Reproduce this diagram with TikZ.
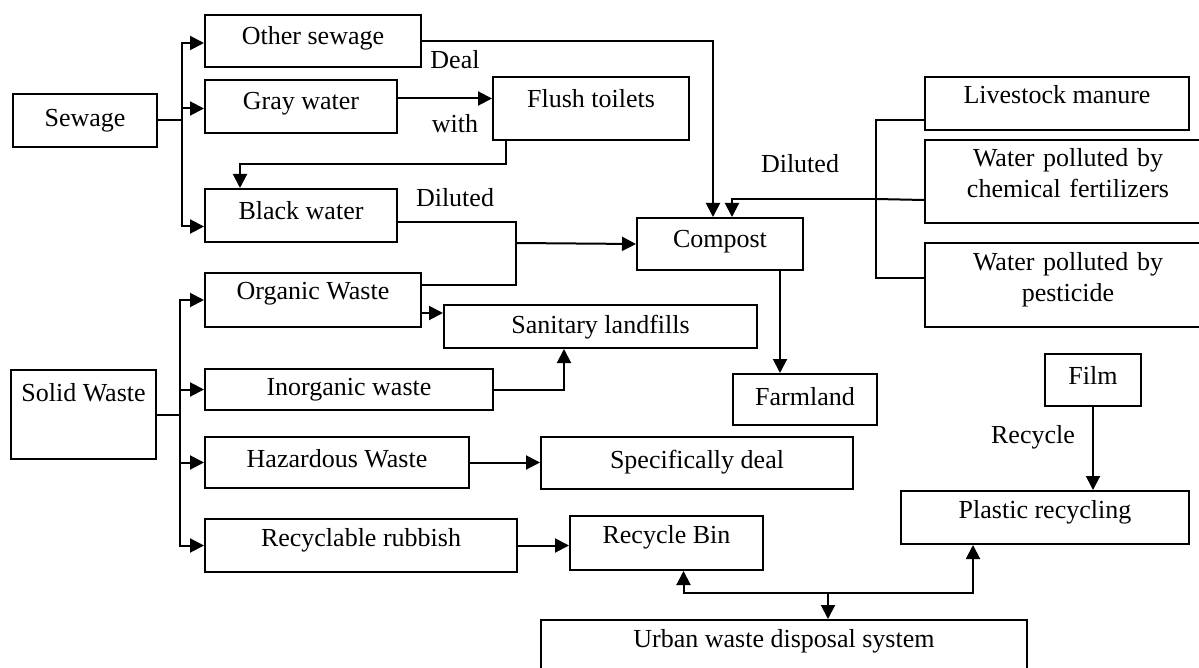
\documentclass[tikz,border=0pt]{standalone}
\usepackage{fontspec}
\setmainfont{Liberation Serif}
\usetikzlibrary{arrows.meta}
\begin{document}
\begin{tikzpicture}[x=1pt, y=-1pt, line width=2pt, font=\fontsize{26}{31}\selectfont]
	\tikzset{
		box/.style={draw, inner sep=0pt, anchor=north west},
		twoline/.style={box, align=center},
		flow/.style={-{Triangle[length=14pt,width=14pt]}}
	}
	\clip (0,0) rectangle (1199,668);

	% sewage part
	\draw node[box, minimum width=144pt, minimum height=53pt, text height=33pt, text depth=20pt] (sewage) at (12,93) {Sewage};
	\draw node[box, minimum width=216pt, minimum height=52pt, text height=30pt, text depth=22pt] (other) at (204,14) {Other sewage};
	\draw node[box, minimum width=192pt, minimum height=53pt, text height=30pt, text depth=23pt] (gray) at (204,79) {Gray water};
	\draw node[box, minimum width=196pt, minimum height=63pt, text height=31pt, text depth=32pt] (flush) at (492,76) {Flush toilets};
	\draw node[box, minimum width=192pt, minimum height=53pt, text height=31pt, text depth=22pt] (black) at (204,188) {Black water};
	\draw node[box, minimum width=166pt, minimum height=52pt, text height=30pt, text depth=22pt] (compost) at (636,217) {Compost};
	\draw node[box, minimum width=144pt, minimum height=51pt, text height=31pt, text depth=20pt] (farmland) at (732,373) {Farmland};

	% solid waste part
	\draw node[box, minimum width=145pt, minimum height=89pt, text height=31pt, text depth=58pt] (solid) at (10,369) {Solid Waste};
	\draw node[box, minimum width=216pt, minimum height=54pt, text height=26pt, text depth=28pt] (organic) at (204,272) {Organic Waste};
	\draw node[box, minimum width=288pt, minimum height=41pt, text height=26pt, text depth=15pt] (inorganic) at (204,368) {Inorganic waste};
	\draw node[box, minimum width=264pt, minimum height=51pt, text height=30pt, text depth=21pt] (hazardous) at (204,436) {Hazardous Waste};
	\draw node[box, minimum width=312pt, minimum height=53pt, text height=27pt, text depth=26pt] (recyclable) at (204,518) {Recyclable rubbish};
	\draw node[box, minimum width=313pt, minimum height=43pt, text height=28pt, text depth=15pt] (sanitary) at (443,304) {Sanitary landfills};
	\draw node[box, minimum width=312pt, minimum height=52pt, text height=31pt, text depth=21pt] (specific) at (540,436) {Specifically deal};
	\draw node[box, minimum width=193pt, minimum height=54pt, text height=27pt, text depth=27pt] (recbin) at (569,515) {Recycle Bin};
	\draw node[box, minimum width=486pt, minimum height=60pt, text height=27pt, text depth=33pt] (urban) at (540,619) {Urban waste disposal system};

	% farm part
	\draw node[box, minimum width=264pt, minimum height=53pt, text height=27pt, text depth=26pt] (livestock) at (924,76) {Livestock manure};
	\draw node[twoline, text width=286pt, minimum height=83pt, text height=27pt, text depth=56pt] (chem) at (924,139) {Water polluted by\\chemical fertilizers};
	\draw node[twoline, text width=286pt, minimum height=84pt, text height=28pt, text depth=56pt] (pest) at (924,242) {Water polluted by\\pesticide};
	\draw node[box, minimum width=96pt, minimum height=52pt, text height=30pt, text depth=22pt] (film) at (1044,353) {Film};
	\draw node[box, minimum width=288pt, minimum height=53pt, text height=27pt, text depth=26pt] (plastic) at (900,490) {Plastic recycling};

	\node[anchor=base] (deal) at (455,69) {Deal};
	\node[anchor=base] (with) at (455,133) {with};
	\node[anchor=base] (dil1) at (455,207) {Diluted};
	\node[anchor=base] (dil2) at (800,173) {Diluted};
	\node[anchor=base] (recycle) at (1033,443) {Recycle};

	\coordinate (sbus) at ([xshift=24pt]sewage.east);
	\coordinate (wbus) at ([xshift=23pt]solid.east);
	\coordinate (dil) at (516,243);
	\coordinate (rbus) at (876,199);
	\coordinate (hub) at (828,593);

	\draw (sewage.east) -- (sbus);
	\draw[flow] (sbus) |- ([yshift=-2pt]other.west);
	\draw[flow] (sbus) |- ([yshift=-2pt]gray.west);
	\draw[flow] (sbus) |- ([yshift=-11pt]black.west);
	\draw (solid.east) -- (wbus);
	\foreach \t in {organic,inorganic,hazardous,recyclable}{
		\draw[flow] (wbus) |- (\t.west);
	}

	\draw[flow] (other.east) -| ([xshift=-7pt]compost.north);
	\draw[flow] ([yshift=8pt]gray.east) -- ([yshift=8pt]gray.east -| flush.west);
	\draw[flow] ([xshift=14pt]flush.south west) -- ++(0,23) -| ([xshift=36pt]black.north west);
	\draw ([yshift=-6.5pt]black.east) -| (dil);
	\draw ([yshift=15pt]organic.east) -| (dil);
	\draw[flow] (dil) -- (compost.west);
	\draw[flow] ([xshift=144pt]compost.south west) -- ([xshift=144pt]compost.south west |- farmland.north);

	\draw ([yshift=-17pt]livestock.west) -| (rbus) |- ([yshift=7pt]pest.west);
	\draw ([yshift=-18.5pt]chem.west) -- (rbus);
	\draw[flow] (rbus) -| ([xshift=12pt]compost.north);

	\draw[flow] ([yshift=-13pt]organic.east) -- ([yshift=-13pt]organic.east -| sanitary.west);
	\draw[flow] (inorganic.east) -| ([xshift=121pt]sanitary.south west);
	\draw[flow] (hazardous.east) -- (hazardous.east -| specific.west);
	\draw[flow] (recyclable.east) -- (recyclable.east -| recbin.west);

	\draw[flow] (film.south) -- (film.south |- plastic.north);
	\draw[flow] (hub) -- (hub |- urban.north);
	\draw[flow] (hub) -| ([xshift=17pt]recbin.south);
	\draw[flow] (hub) -| ([xshift=73pt]plastic.south west);
\end{tikzpicture}
\end{document}
